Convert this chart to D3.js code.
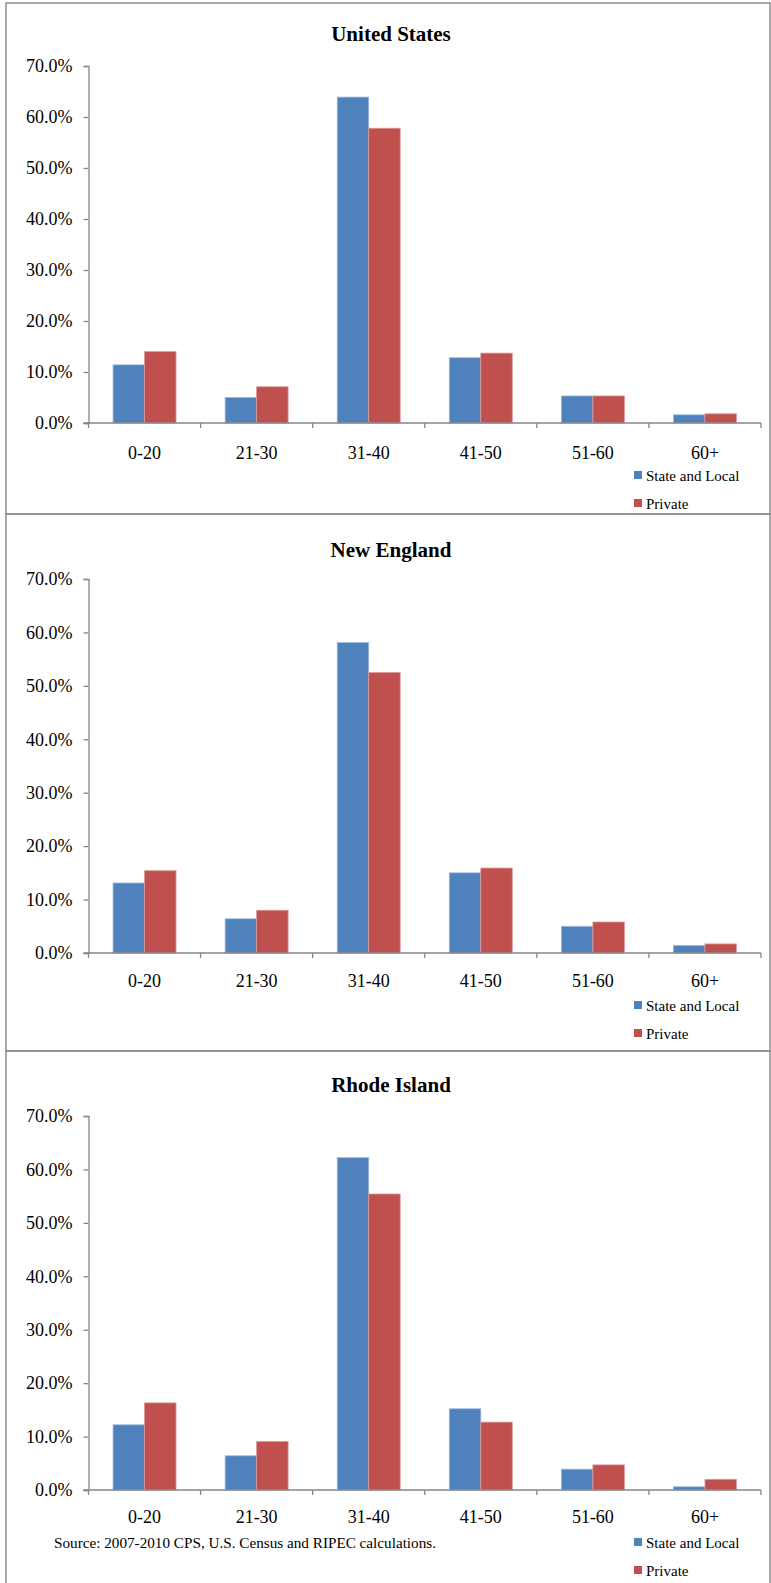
<!DOCTYPE html>
<html>
<head>
<meta charset="utf-8">
<script src="https://cdn.jsdelivr.net/npm/d3@7"></script>
<style>
  html, body { margin: 0; padding: 0; background: #fff; }
  svg { display: block; }
  text { font-family: "Liberation Serif", "Times New Roman", "DejaVu Serif", serif; fill: #000; }
</style>
</head>
<body>
<svg id="chart" width="771" height="1583"></svg>
<script>
// Age-group distribution, State and Local vs Private workers
const categories = ["0-20", "21-30", "31-40", "41-50", "51-60", "60+"];
const seriesNames = ["State and Local", "Private"];
const yTicks = [0, 10, 20, 30, 40, 50, 60, 70];

const usStateLocal = [11.4, 5.0, 63.9, 12.8, 5.3, 1.6];
const usPrivate    = [14.0, 7.1, 57.8, 13.7, 5.3, 1.8];

const neStateLocal = [13.1, 6.4, 58.1, 15.0, 5.0, 1.4];
const nePrivate    = [15.4, 8.0, 52.5, 15.9, 5.8, 1.7];

const riStateLocal = [12.2, 6.4, 62.2, 15.2, 3.9, 0.6];
const riPrivate    = [16.3, 9.1, 55.4, 12.7, 4.7, 2.0];

const panelTitles = ["United States", "New England", "Rhode Island"];
const sourceNote = "Source: 2007-2010 CPS, U.S. Census and  RIPEC calculations.";

const colors = ["#4F81BD", "#C0504D"];
const edgeColors = ["#9DB7DB", "#DB9896"];
const axisColor = "#868686";
const serif = "'Liberation Serif', 'Times New Roman', 'DejaVu Serif', serif";

const svg = d3.select("#chart");

const panels = [
  { title: panelTitles[0], data: [usStateLocal, usPrivate], top: 3,    bottom: 514,  titleY: 41,   y70: 66,   y0: 423, labelY: 36 },
  { title: panelTitles[1], data: [neStateLocal, nePrivate], top: 514,  bottom: 1051, titleY: 557,  y70: 579,  y0: 953, labelY: 34 },
  { title: panelTitles[2], data: [riStateLocal, riPrivate], top: 1051, bottom: 1590, titleY: 1092, y70: 1116, y0: 1490, labelY: 33, source: true }
];

const plotLeft = 88.5, plotRight = 761;

panels.forEach(p => {
  const g = svg.append("g").attr("font-family", serif);

  // frame
  g.append("rect")
    .attr("x", 6).attr("y", p.top)
    .attr("width", 764).attr("height", p.bottom - p.top)
    .attr("fill", "none").attr("stroke", "#8c8c8c").attr("stroke-width", 1.5);

  // title
  g.append("text")
    .attr("x", 391).attr("y", p.titleY)
    .attr("text-anchor", "middle")
    .attr("font-size", 21).attr("font-weight", "bold")
    .text(p.title);

  const x = d3.scaleBand().domain(categories).range([plotLeft, plotRight]).paddingInner(0).paddingOuter(0);
  const xs = d3.scaleBand().domain(seriesNames).range([0, x.bandwidth()]).paddingInner(0).paddingOuter(0.78);
  const y = d3.scaleLinear().domain([0, 70]).range([p.y0, p.y70]);

  // bars
  p.data.forEach((vals, si) => {
    g.append("g").selectAll("rect")
      .data(vals)
      .join("rect")
      .attr("x", (d, i) => x(categories[i]) + xs(seriesNames[si]))
      .attr("y", d => y(d))
      .attr("width", xs.bandwidth())
      .attr("height", d => y(0) - y(d))
      .attr("fill", colors[si])
      .attr("stroke", edgeColors[si])
      .attr("stroke-width", 0.8);
  });

  // y axis
  const yAxis = d3.axisLeft(y).tickValues(yTicks).tickSize(5).tickPadding(11)
    .tickFormat(d => d.toFixed(1) + "%");
  const ya = g.append("g").attr("transform", `translate(${plotLeft},0)`).call(yAxis)
    .attr("font-family", serif);
  ya.select(".domain").attr("stroke", axisColor).attr("stroke-width", 1.3);
  ya.selectAll(".tick line").attr("stroke", axisColor).attr("stroke-width", 1.3);
  ya.selectAll(".tick text").attr("font-size", 18).attr("fill", "#000");

  // x axis: baseline plus boundary ticks
  const xa = g.append("g").attr("transform", `translate(0,${p.y0})`);
  xa.append("line").attr("x1", plotLeft - 5).attr("x2", plotRight).attr("y1", 0).attr("y2", 0)
    .attr("stroke", axisColor).attr("stroke-width", 1.3);
  const bounds = categories.map(c => x(c)).concat([x(categories[categories.length - 1]) + x.bandwidth()]);
  xa.selectAll("line.bound").data(bounds).join("line").attr("class", "bound")
    .attr("x1", d => d).attr("x2", d => d).attr("y1", 0).attr("y2", 5)
    .attr("stroke", axisColor).attr("stroke-width", 1.3);
  xa.selectAll("text").data(categories).join("text")
    .attr("x", d => x(d) + x.bandwidth() / 2)
    .attr("y", p.labelY)
    .attr("text-anchor", "middle")
    .attr("font-size", 18)
    .text(d => d);

  // legend
  const lg = g.append("g").attr("transform", `translate(634,${p.y0 + 53})`);
  seriesNames.forEach((name, i) => {
    const row = lg.append("g").attr("transform", `translate(0,${i * 28})`);
    row.append("rect").attr("x", 0).attr("y", -5).attr("width", 8).attr("height", 8).attr("fill", colors[i]);
    row.append("text").attr("x", 12).attr("y", 5).attr("font-size", 15).text(name);
  });

  if (p.source) {
    g.append("text")
      .attr("x", 54).attr("y", p.y0 + 58)
      .attr("font-size", 14)
      .attr("textLength", 382).attr("lengthAdjust", "spacingAndGlyphs")
      .text(sourceNote);
  }
});
</script>
</body>
</html>
